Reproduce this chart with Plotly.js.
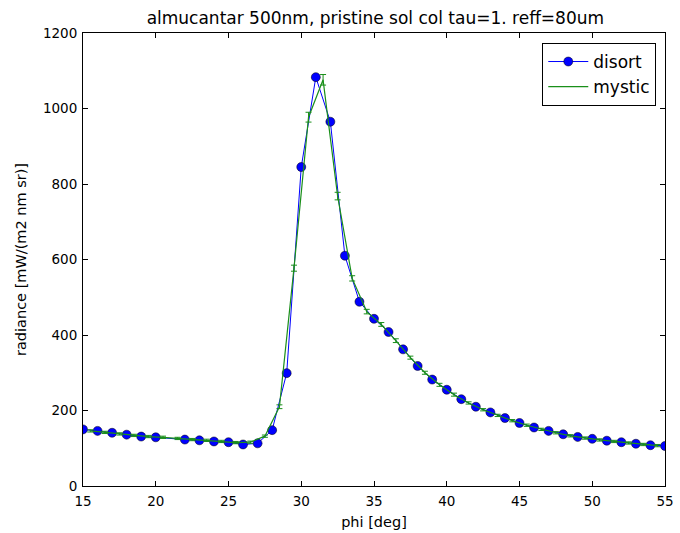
<!DOCTYPE html>
<html>
<head>
<meta charset="utf-8">
<script src="https://cdn.plot.ly/plotly-3.0.1.min.js"></script>
<style>html,body{margin:0;padding:0;background:#fff;}#chart{width:680px;height:533px;}</style>
</head>
<body>
<div id="chart"></div>
<script>
const disortPhi = [15,16,17,18,19,20,22,23,24,25,26,27,28,29,30,31,32,33,34,35,36,37,38,39,40,41,42,43,44,45,46,47,48,49,50,51,52,53,54,55];
const disortRad = [150,146,141,136,131,129,123,121,118,116,110,113,148,299,845,1083,965,610,488,443,408,362,318,282,255,230,210,195,180,167,155,146,137,130,125,120,116,112,108,106];
const mysticPhi = [15.5,16.5,17.5,18.5,19.5,20.5,21.5,22.5,23.5,24.5,25.5,26.5,27.5,28.5,29.5,30.5,31.5,32.5,33.5,34.5,35.5,36.5,37.5,38.5,39.5,40.5,41.5,42.5,43.5,44.5,45.5,46.5,47.5,48.5,49.5,50.5,51.5,52.5,53.5,54.5];
const mysticRad = [146,142,138,134,131,129,126,123,121,118,115,116,132,210,577,977,1076,768,550,462,428,385,340,300,268,242,220,202,187,173,161,150,141,133,127,122,118,114,110,107];
const mysticErr = [3,3,3,3,3,3,3,3,3,3,3,3,3,5,8,13,14,10,7,6,5,5,4,4,4,4,3,3,3,3,3,3,3,3,3,3,3,3,3,3];

const traces = [
  {x: disortPhi, y: disortRad, name: 'disort', mode: 'lines+markers', type: 'scatter',
   line: {color: '#0000ff', width: 1},
   marker: {color: '#0000ff', size: 9, line: {color: '#000000', width: 0.5}}},
  {x: mysticPhi, y: mysticRad, name: 'mystic', mode: 'lines', type: 'scatter',
   line: {color: '#1a8f1a', width: 1.2},
   error_y: {type: 'data', array: mysticErr, visible: true, color: '#1a8f1a', thickness: 1, width: 3}}
];

const axisCommon = {
  showline: true, mirror: 'ticks', linecolor: '#000', linewidth: 1,
  ticks: 'inside', ticklen: 5, tickcolor: '#000', tickwidth: 1,
  showgrid: false, zeroline: false,
  tickfont: {family: 'DejaVu Sans', size: 13.5, color: '#000'}
};

const layout = {
  width: 680, height: 533,
  margin: {l: 83, r: 15, t: 33, b: 47},
  paper_bgcolor: '#fff', plot_bgcolor: '#fff',
  title: {text: 'almucantar 500nm, pristine sol col tau=1. reff=80um',
          font: {family: 'DejaVu Sans', size: 17, color: '#000'},
          x: 0.552, xanchor: 'center', y: 0.978, yanchor: 'top'},
  xaxis: Object.assign({}, axisCommon, {range: [15, 55], dtick: 5, tick0: 15, ticklabelstandoff: 3,
          title: {text: 'phi [deg]', font: {family: 'DejaVu Sans', size: 14.5, color: '#000'}, standoff: 8}}),
  yaxis: Object.assign({}, axisCommon, {range: [0, 1200], dtick: 200, ticklabelstandoff: 2,
          title: {text: 'radiance [mW/(m2 nm sr)]', font: {family: 'DejaVu Sans', size: 14.5, color: '#000'}, standoff: 12}}),
  showlegend: true,
  legend: {x: 0.985, y: 0.978, xanchor: 'right', yanchor: 'top',
           bordercolor: '#000', borderwidth: 1, bgcolor: '#fff',
           font: {family: 'DejaVu Sans', size: 17, color: '#000'},
           itemwidth: 40, tracegroupgap: 2}
};

Plotly.newPlot('chart', traces, layout, {displayModeBar: false, staticPlot: true});
</script>
</body>
</html>
